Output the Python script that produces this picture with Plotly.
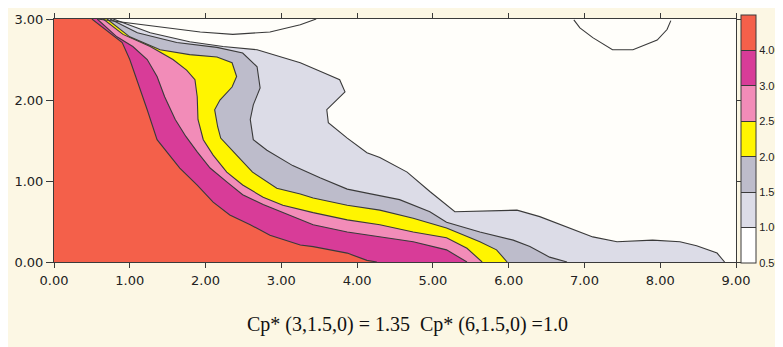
import plotly.graph_objects as go

# ---- axis ticks ----
x_tick_vals = [0, 1, 2, 3, 4, 5, 6, 7, 8, 9]
x_tick_text = ["0.00", "1.00", "2.00", "3.00", "4.00", "5.00", "6.00", "7.00", "8.00", "9.00"]
y_tick_vals = [0, 1, 2, 3]
y_tick_text = ["0.00", "1.00", "2.00", "3.00"]

# ---- colour levels (colorbar) ----
levels = [0.5, 1.0, 1.5, 2.0, 2.5, 3.0, 4.0]
level_text = ["0.50", "1.00", "1.50", "2.00", "2.50", "3.00", "4.00"]
band_colors = ["#FFFFFF", "#DCDCE7", "#BDBCCB", "#FFF500", "#F28CB8", "#D83C98", "#F4604A"]

# ---- contour lines (x, y) ----
c10_x = [0.78, 1.27, 1.79, 2.23, 2.68, 3.02, 3.25, 3.55, 3.77, 3.84, 3.73, 3.60, 3.62, 3.87, 4.13,
         4.30, 4.66, 4.96, 5.29, 5.71, 6.11, 6.41, 6.77, 7.11, 7.43, 7.90, 8.26, 8.48, 8.75, 8.85]
c10_y = [3.00, 2.83, 2.72, 2.66, 2.62, 2.53, 2.46, 2.34, 2.25, 2.10, 2.00, 1.88, 1.72, 1.53, 1.35,
         1.29, 1.11, 0.87, 0.62, 0.63, 0.64, 0.56, 0.43, 0.31, 0.25, 0.27, 0.25, 0.20, 0.11, 0.00]

c15_x = [0.74, 1.10, 1.62, 2.15, 2.49, 2.68, 2.72, 2.63, 2.59, 2.63, 2.81, 3.15, 3.51, 3.87, 4.13,
         4.56, 4.96, 5.18, 5.62, 6.06, 6.28, 6.54, 6.77]
c15_y = [3.00, 2.83, 2.71, 2.65, 2.58, 2.41, 2.15, 1.94, 1.76, 1.51, 1.38, 1.19, 1.04, 0.90, 0.85,
         0.77, 0.62, 0.49, 0.37, 0.27, 0.19, 0.06, 0.00]

c20_x = [0.70, 1.00, 1.40, 1.79, 2.15, 2.35, 2.41, 2.35, 2.19, 2.12, 2.16, 2.20, 2.41, 2.62, 2.94,
         3.25, 3.42, 3.87, 4.30, 4.74, 5.18, 5.62, 5.84, 5.98]
c20_y = [3.00, 2.78, 2.62, 2.56, 2.53, 2.46, 2.29, 2.16, 2.00, 1.88, 1.67, 1.53, 1.32, 1.11, 0.91,
         0.84, 0.79, 0.70, 0.64, 0.54, 0.42, 0.25, 0.15, 0.00]

c25_x = [0.65, 0.91, 1.27, 1.57, 1.75, 1.86, 1.89, 1.90, 1.97, 2.10, 2.28, 2.49, 2.76, 3.02, 3.42,
         3.87, 4.30, 4.74, 5.18, 5.45, 5.65]
c25_y = [3.00, 2.81, 2.66, 2.50, 2.37, 2.25, 2.04, 1.76, 1.51, 1.32, 1.11, 0.95, 0.80, 0.70, 0.61,
         0.52, 0.46, 0.37, 0.30, 0.17, 0.00]

c30_x = [0.57, 0.83, 1.04, 1.23, 1.36, 1.46, 1.60, 1.74, 1.89, 2.06, 2.28, 2.49, 2.76, 3.02, 3.42,
         3.87, 4.30, 4.74, 5.18, 5.45]
c30_y = [3.00, 2.78, 2.66, 2.50, 2.29, 2.04, 1.76, 1.55, 1.36, 1.16, 0.99, 0.83, 0.71, 0.61, 0.46,
         0.37, 0.31, 0.25, 0.15, 0.00]

c40_x = [0.50, 0.90, 1.00, 1.11, 1.23, 1.36, 1.49, 1.66, 1.89, 2.10, 2.32, 2.59, 2.85, 3.25, 3.42,
         3.87, 4.13, 4.26]
c40_y = [3.00, 2.71, 2.50, 2.21, 1.88, 1.51, 1.36, 1.16, 0.95, 0.74, 0.58, 0.46, 0.33, 0.21, 0.19,
         0.11, 0.02, 0.00]

# thin closed contours touching the top edge
topA_x = [0.57, 1.27, 1.93, 2.36, 2.85, 3.25, 3.46]
topA_y = [3.00, 2.92, 2.84, 2.81, 2.84, 2.93, 3.00]
topB_x = [6.86, 6.94, 7.11, 7.37, 7.64, 7.96, 8.09, 8.14]
topB_y = [2.99, 2.89, 2.77, 2.62, 2.62, 2.74, 2.87, 2.98]

caption = "Cp* (3,1.5,0) = 1.35  Cp* (6,1.5,0) =1.0"

LINE = "#3a3a3a"
fig = go.Figure()

bands = [(c10_x, c10_y, band_colors[1]), (c15_x, c15_y, band_colors[2]),
         (c20_x, c20_y, band_colors[3]), (c25_x, c25_y, band_colors[4]),
         (c30_x, c30_y, band_colors[5]), (c40_x, c40_y, band_colors[6])]

for xs, ys, col in bands:
    fig.add_trace(go.Scatter(x=[0, 0] + xs + [0], y=[0, 3] + ys + [0], mode="lines",
                             fill="toself", fillcolor=col, line=dict(width=0),
                             hoverinfo="skip", showlegend=False))

for xs, ys in [(c10_x, c10_y), (c15_x, c15_y), (c20_x, c20_y), (c25_x, c25_y),
               (c30_x, c30_y), (c40_x, c40_y), (topA_x, topA_y), (topB_x, topB_y)]:
    fig.add_trace(go.Scatter(x=xs, y=ys, mode="lines", line=dict(color=LINE, width=1.1),
                             hoverinfo="skip", showlegend=False))

# discrete colorbar
n = len(band_colors)
cscale = []
for i, c in enumerate(band_colors):
    cscale.append([i / n, c])
    cscale.append([(i + 1) / n, c])

fig.add_trace(go.Scatter(
    x=[-5], y=[-5], mode="markers", hoverinfo="skip", showlegend=False,
    marker=dict(size=1, color=[0.5], cmin=0, cmax=n, colorscale=cscale, showscale=True,
                colorbar=dict(
                    x=1.0073, xanchor="left", xpad=0, y=0.506, yanchor="middle", ypad=0,
                    len=1.02, lenmode="fraction", thickness=15,
                    outlinewidth=1, outlinecolor=LINE,
                    tickvals=list(range(len(levels))), ticktext=level_text,
                    ticks="inside", ticklen=15, tickcolor=LINE, tickwidth=1,
                    tickfont=dict(family="Liberation Sans", size=11, color="#222"),
                ))))

axis_font = dict(family="DejaVu Sans", size=13, color="#222")
fig.update_xaxes(range=[0, 9], tickvals=x_tick_vals, ticktext=x_tick_text,
                 showline=True, linecolor=LINE, linewidth=1, mirror="ticks",
                 ticks="outside", ticklen=5, tickcolor=LINE, showgrid=False, zeroline=False,
                 tickfont=axis_font, ticklabelstandoff=1, fixedrange=True, automargin=False)
fig.update_yaxes(range=[0, 3], tickvals=y_tick_vals, ticktext=y_tick_text,
                 showline=True, linecolor=LINE, linewidth=1, mirror="ticks",
                 ticks="outside", ticklen=7, tickcolor=LINE, showgrid=False, zeroline=False,
                 tickfont=axis_font, fixedrange=True, automargin=False)

fig.add_annotation(text=caption, xref="paper", yref="paper", x=0.5176, y=-0.259,
                   xanchor="center", yanchor="middle", showarrow=False,
                   font=dict(family="Liberation Serif", size=20, color="#111"))

# page body has an 8px margin, so the figure is sized to fit the rest of the window
fig.update_layout(width=775, height=339,
                  margin=dict(l=46, r=47, t=11, b=85, autoexpand=False),
                  paper_bgcolor="#FCF7E4", plot_bgcolor="#FFFEFA")

fig.write_html("out.html")
